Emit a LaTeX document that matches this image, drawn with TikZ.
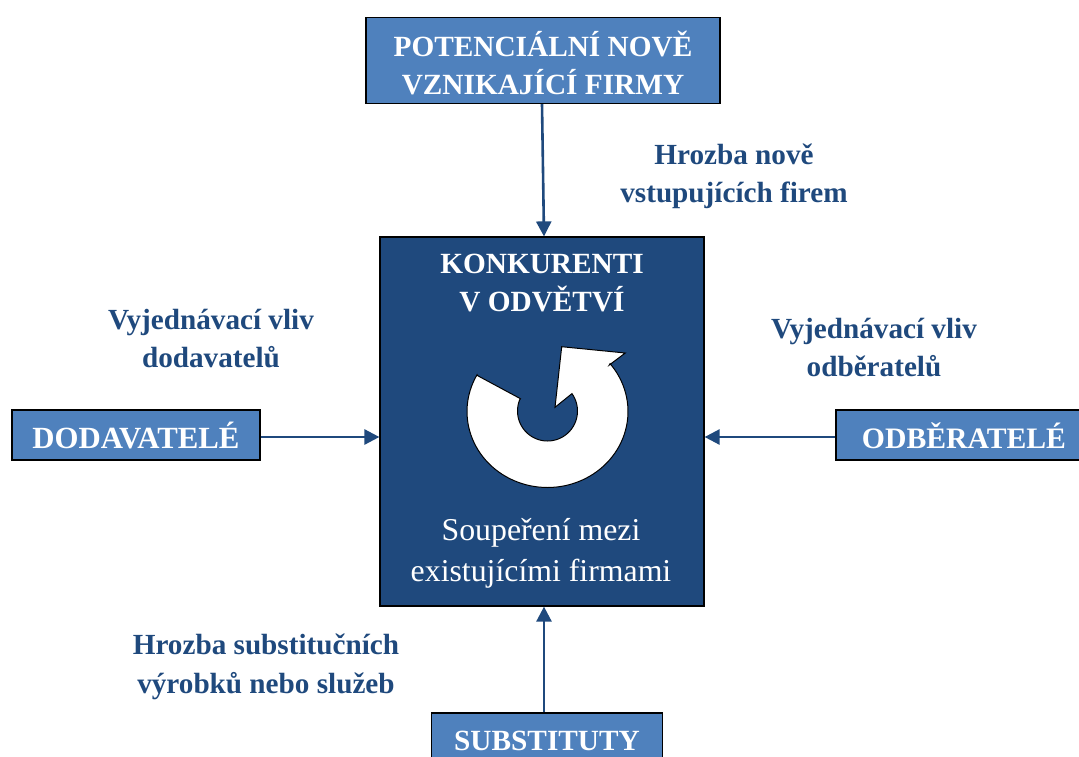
\documentclass[tikz,border=0pt]{standalone}
\usepackage{fontspec}
\setmainfont{Liberation Serif}
\usetikzlibrary{arrows.meta}
\definecolor{lightb}{HTML}{4F81BD}
\definecolor{darkb}{HTML}{1F497D}
\tikzset{
  x=1pt,y=-1pt,
  extbox/.style={draw=black,line width=1.2pt,fill=lightb,minimum height=#1,inner sep=0pt},
  boxtext/.style={text=white,font=\fontsize{29.3}{38}\selectfont\bfseries,align=center,inner sep=0pt},
  lab/.style={text=darkb,font=\fontsize{29.2}{38}\selectfont\bfseries,align=center,inner sep=0pt},
  conn/.style={draw=darkb,line width=2.6pt,-{Triangle[length=15pt,width=15pt]}}
}
\begin{document}
\begin{tikzpicture}
\useasboundingbox (0,0) rectangle (1079,756);
\node[draw=black,line width=1.2pt,fill=darkb,minimum width=324pt,minimum height=369pt,inner sep=0pt] (core) at (542,421.5) {};
\node[extbox=86pt,minimum width=354pt] (top) at (543,60.5) {};
\node[extbox=50pt,minimum width=248pt] (left) at (136,435) {};
\node[extbox=50pt,minimum width=260pt] (right) at (966,435) {};
\node[extbox=50pt,minimum width=231pt] (bot) at (547,738) {};
\node[boxtext] (ttop) at (543,62.5) {POTENCIÁLNÍ NOVĚ\\VZNIKAJÍCÍ FIRMY};
\node[boxtext,font=\fontsize{30.8}{38}\selectfont\bfseries] (tleft) at (136,435.5) {DODAVATELÉ};
\node[boxtext,font=\fontsize{29.7}{38}\selectfont\bfseries] (tright) at (964,435.5) {ODBĚRATELÉ};
\node[boxtext] (tbot) at (547,740.5) {SUBSTITUTY};
\draw[conn] ([xshift=-1pt]top.south) -- ([xshift=2pt]core.north);
\draw[conn] ([xshift=-3pt]bot.north) -- ([xshift=2pt]core.south);
\draw[conn] ([yshift=-2pt]left.east) -- ([yshift=-15.5pt]core.west);
\draw[conn] ([yshift=-2pt]right.west) -- ([yshift=-15.5pt]core.east);
\node[boxtext] (t1) at (542,283.5) {KONKURENTI\\V ODVĚTVÍ};
\node[boxtext,font=\fontsize{31.8}{41}\selectfont\mdseries] (t2) at (541,553) {Soupeření mezi\\existujícími firmami};
\node[lab] (l1) at (734,176) {Hrozba nově\\vstupujících firem};
\node[lab] (l2) at (211,338.5) {Vyjednávací vliv\\dodavatelů};
\node[lab] (l3) at (874,348) {Vyjednávací vliv\\odběratelů};
\node[lab,font=\fontsize{29.2}{39}\selectfont\bfseries] (l4) at (266,667) {Hrozba substitučních\\výrobků nebo služeb};
\filldraw[fill=white,draw=black,line width=1pt,line join=miter]
 (477.7,375.7) -- (521,399)
 -- plot[domain=204.4:-35.4,samples=60,smooth] ({547.5+30*cos(\x)},{411+30*sin(\x)})
 -- (555,407.3) -- (561.7,346.7) -- (625.3,353) -- (609.3,365)
 -- plot[domain=-39:209,samples=80,smooth] ({547.5+80.5*cos(\x)},{411.5+76*sin(\x)})
 -- cycle;
\end{tikzpicture}
\end{document}
